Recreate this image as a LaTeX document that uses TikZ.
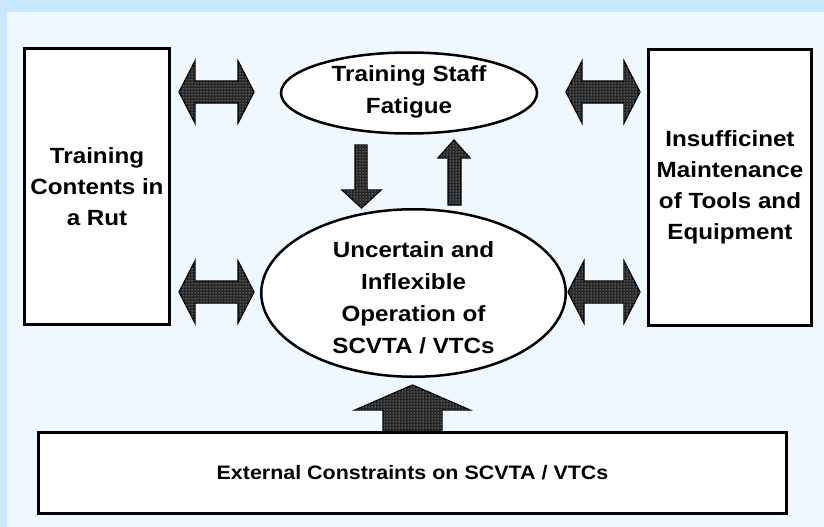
\documentclass[tikz,border=0pt]{standalone}
\usepackage{fontspec}
\setmainfont{Liberation Sans}[FakeStretch=1.1]
\usetikzlibrary{shapes.geometric,patterns}

\definecolor{frameblue}{RGB}{200,232,255}
\definecolor{paneblue}{RGB}{240,248,255}

\tikzset{
  box/.style={draw=black, line width=3pt, fill=white, inner sep=0pt,
    align=center, font=\bfseries\fontsize{22}{31}\selectfont},
  oval/.style={ellipse, draw=black, line width=2.5pt, fill=white, inner sep=0pt},
  ovaltext/.style={align=center, inner sep=0pt, font=\bfseries\fontsize{22}{32}\selectfont},
  blockarrow/.style={draw=black, line width=1.3pt, line join=miter, fill=black!85,
    postaction={pattern=dots, pattern color=white}},
}

% horizontal double block arrow: left tip x, right tip x, centre y
\newcommand\hdblarrow[3]{%
  \path[blockarrow] ({#1},{#3}) -- ({#1+16},{#3-31}) -- ({#1+16},{#3-11})
    -- ({#2-16},{#3-11}) -- ({#2-16},{#3-31}) -- ({#2},{#3})
    -- ({#2-16},{#3+31}) -- ({#2-16},{#3+11}) -- ({#1+16},{#3+11})
    -- ({#1+16},{#3+31}) -- cycle;}

\begin{document}
\begin{tikzpicture}[x=1pt, y=-1pt]
  \useasboundingbox (0,0) rectangle (824,527);
  % backdrop
  \fill[frameblue] (0,0) rectangle (824,527);
  \fill[paneblue] (7,12) rectangle (824,527);

  % block arrows
  \hdblarrow{179}{254}{92}
  \hdblarrow{566}{640}{92}
  \hdblarrow{179}{254}{292}
  \hdblarrow{568}{640}{292}
  % down arrow (fatigue -> operation)
  \path[blockarrow] (355,145) -- (367,145) -- (367,190) -- (381,190)
    -- (361.5,208) -- (342,190) -- (355,190) -- cycle;
  % up arrow (operation -> fatigue)
  \path[blockarrow] (448,205) -- (448,158) -- (438,158) -- (454,140)
    -- (470,158) -- (461,158) -- (461,205) -- cycle;
  % wide up arrow from the constraints box
  \path[blockarrow] (383,431) -- (383,410) -- (355,410) -- (412.5,385)
    -- (470,410) -- (442,410) -- (442,431) -- cycle;

  % boxes
  \node[box, minimum width=145.5pt, minimum height=276.5pt] (rut)
    at (97,186.7) {Training\\Contents in\\a Rut};
  \node[box, minimum width=163pt, minimum height=276pt] (tools)
    at (730,187.5) {Insufficinet\\Maintenance\\of Tools and\\Equipment};
  \node[box, minimum width=748pt, minimum height=81pt,
        font=\bfseries\fontsize{19.5}{24}\selectfont] (ext)
    at (412.5,473) {External Constraints on SCVTA / VTCs};

  % ellipses
  \node[oval, minimum width=256pt, minimum height=81pt] (fatigue) at (409,93) {};
  \node[ovaltext] (fatiguetxt) at (409,91.5) {Training Staff\\Fatigue};
  \node[oval, minimum width=304.5pt, minimum height=167.5pt] (oper) at (413.5,293) {};
  \node[ovaltext] (opertxt) at (413.5,297.8)
    {Uncertain and\\Inflexible\\Operation of\\SCVTA / VTCs};
\end{tikzpicture}
\end{document}
